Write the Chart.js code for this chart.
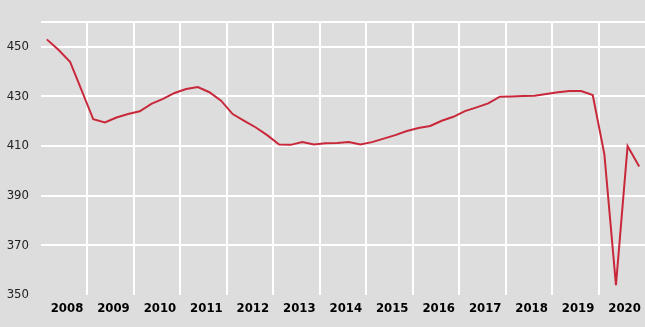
<!DOCTYPE html>
<html>
<head>
<meta charset="utf-8">
<script src="https://cdn.jsdelivr.net/npm/chart.js@4"></script>
<style>
  html, body { margin: 0; padding: 0; background: #dddddd; }
  #wrap { width: 645px; height: 327px; }
</style>
</head>
<body>
<div id="wrap"><canvas id="chart"></canvas></div>
<script>
// quarterly series, 2008Q1 .. 2020Q4
const years = [2008, 2009, 2010, 2011, 2012, 2013, 2014, 2015, 2016, 2017, 2018, 2019, 2020];
const values = [
  453.0, 448.8, 444.0, 432.4,
  420.8, 419.5, 421.5, 422.9,
  424.0, 427.0, 429.0, 431.4,
  433.0, 433.8, 431.7, 428.3,
  422.9, 420.2, 417.5, 414.3,
  410.6, 410.5, 411.6, 410.6,
  411.1, 411.2, 411.6, 410.6,
  411.6, 413.0, 414.4, 416.1,
  417.3, 418.1, 420.2, 421.8,
  424.1, 425.6, 427.2, 429.9,
  430.0, 430.2, 430.3, 431.0,
  431.7, 432.2, 432.2, 430.6,
  406.8, 354.0, 410.0, 401.8
];
const yTicks = [350, 370, 390, 410, 430, 450];
const yMin = 350, yMax = 460;

const points = values.map((v, i) => ({ x: years[0] + (i + 0.5) / 4, y: v }));
const xEnd = years[years.length - 1] + 1;
const labelFont = "'DejaVu Sans Condensed', 'Liberation Sans', Arial, sans-serif";

new Chart(document.getElementById("chart"), {
  type: "line",
  data: {
    datasets: [
      {
        data: points,
        borderColor: "#c8283a",
        borderWidth: 2,
        pointRadius: 0,
        tension: 0,
      },
    ],
  },
  options: {
    responsive: true,
    maintainAspectRatio: false,
    animation: false,
    layout: { padding: { top: 22, right: 0, left: 0, bottom: 0 } },
    plugins: { legend: { display: false }, tooltip: { enabled: false } },
    scales: {
      x: {
        type: "linear",
        min: years[0],
        max: xEnd,
        afterBuildTicks: (axis) => {
          axis.ticks = years.concat([xEnd]).map((y) => ({ value: y }));
        },
        afterFit: (axis) => {
          axis.height = 32;
          axis.paddingLeft = 0;
          axis.paddingRight = 0;
        },
        border: { display: false },
        grid: {
          color: (ctx) =>
            ctx.tick && (ctx.tick.value === years[0] || ctx.tick.value === xEnd)
              ? "rgba(0,0,0,0)"
              : "#ffffff",
          lineWidth: 2,
          drawTicks: false,
        },
        ticks: {
          autoSkip: false,
          maxRotation: 0,
          padding: 6,
          labelOffset: 26,
          color: "#000000",
          font: { family: labelFont, size: 13, weight: "bold" },
          callback: (v) => (v === xEnd ? "" : String(v)),
        },
      },
      y: {
        min: yMin,
        max: yMax,
        afterBuildTicks: (axis) => {
          axis.ticks = yTicks.concat([yMax]).map((v) => ({ value: v }));
        },
        afterFit: (axis) => { axis.width = 41; },
        border: { display: false },
        grid: {
          color: (ctx) =>
            ctx.tick && ctx.tick.value === yMin ? "rgba(0,0,0,0)" : "#ffffff",
          lineWidth: 2,
          drawTicks: false,
        },
        ticks: {
          padding: 12,
          color: "#222222",
          font: { family: labelFont, size: 13 },
          callback: (v) => (v === yMax ? "" : String(v)),
        },
      },
    },
  },
});
</script>
</body>
</html>
